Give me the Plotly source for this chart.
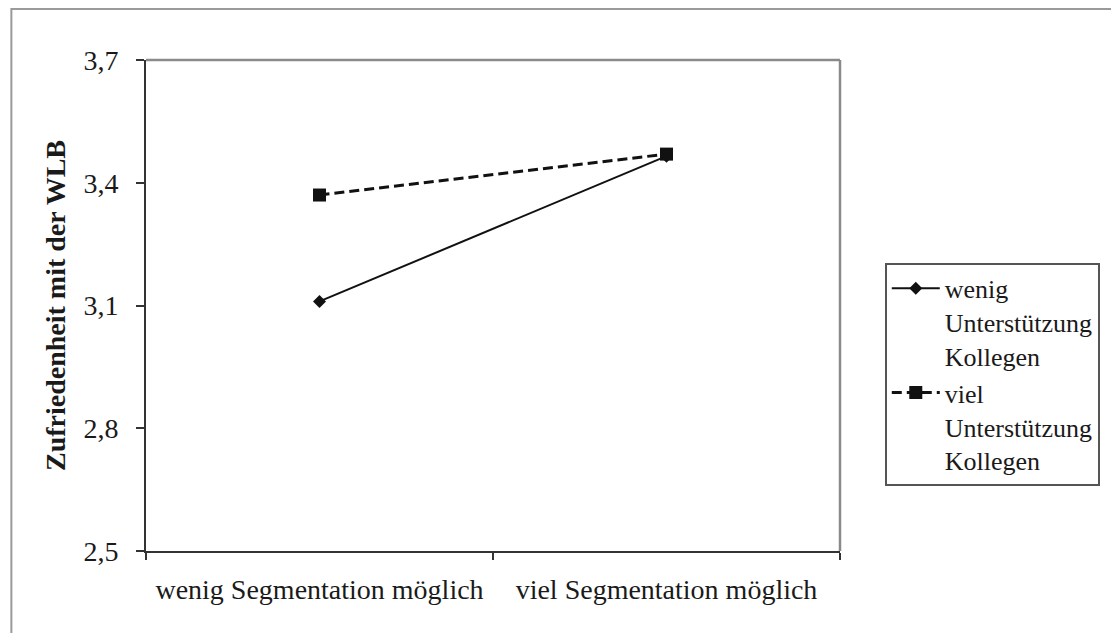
import plotly.graph_objects as go

categories = ["wenig Segmentation möglich", "viel Segmentation möglich"]
series_names = ["wenig<br>Unterstützung<br>Kollegen", "viel<br>Unterstützung<br>Kollegen"]
wenig_unterstuetzung = [3.11, 3.465]
viel_unterstuetzung = [3.37, 3.47]
y_ticks = [2.5, 2.8, 3.1, 3.4, 3.7]

FONT = "Liberation Serif, Times New Roman, serif"

fig = go.Figure()
fig.add_trace(go.Scatter(
    x=categories, y=wenig_unterstuetzung, name=series_names[0],
    mode="lines+markers",
    line=dict(color="#111", width=2),
    marker=dict(symbol="diamond", size=10, color="#111"),
))
fig.add_trace(go.Scatter(
    x=categories, y=viel_unterstuetzung, name=series_names[1],
    mode="lines+markers",
    line=dict(color="#111", width=3, dash="10px,5px"),
    marker=dict(symbol="square", size=13, color="#111"),
))

# grey top/right frame of plot area and outer picture border
fig.add_shape(type="line", xref="paper", yref="paper", x0=0, x1=1, y0=1, y1=1,
              line=dict(color="#8a8a8a", width=2.5))
fig.add_shape(type="line", xref="paper", yref="paper", x0=1, x1=1, y0=0, y1=1,
              line=dict(color="#8a8a8a", width=2.5))
fig.add_shape(type="rect", xref="paper", yref="paper", x0=-0.194, x1=1.6, y0=-0.6, y1=1.104,
              line=dict(color="#9a9a9a", width=2))

# page has an 8px body margin, so figure is sized to fit inside the window
fig.update_layout(
    width=1103, height=625,
    margin=dict(l=138, r=270, t=52, b=82),
    paper_bgcolor="white", plot_bgcolor="white",
    separators=",.",
    font=dict(family=FONT, size=28, color="#1a1a1a"),
    showlegend=True,
    legend=dict(
        x=1.063, xanchor="left", y=0.587, yanchor="top",
        bordercolor="#555", borderwidth=2, bgcolor="white",
        font=dict(family=FONT, size=26, color="#1a1a1a"),
        valign="top", tracegroupgap=0, itemwidth=48,
    ),
    xaxis=dict(
        type="category", range=[-0.5, 1.5],
        showline=True, linecolor="#333", linewidth=2,
        ticks="outside", tickson="boundaries", ticklen=7, tickcolor="#333", tickwidth=1.5,
        showgrid=False, zeroline=False,
        tickfont=dict(size=28), ticklabelstandoff=12,
    ),
    yaxis=dict(
        range=[2.5, 3.7], tickvals=y_ticks, tickformat=".1f",
        showline=True, linecolor="#333", linewidth=2,
        ticks="outside", ticklen=8, tickcolor="#333", tickwidth=1.5,
        showgrid=False, zeroline=False,
        tickfont=dict(size=28), ticklabelstandoff=12,
        title=dict(text="<b>Zufriedenheit mit der WLB</b>", font=dict(size=28), standoff=10),
    ),
)

fig.write_html("out.html")
